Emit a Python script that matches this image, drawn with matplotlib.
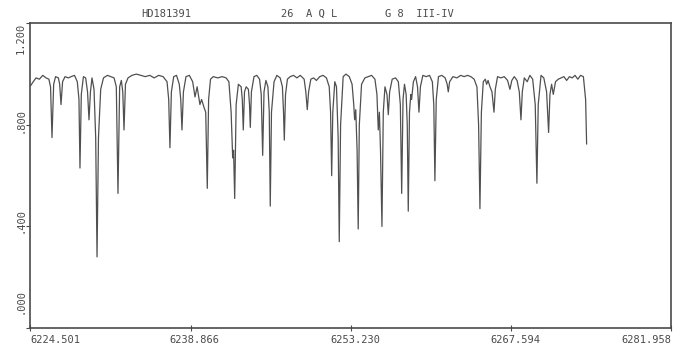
import numpy as np
import matplotlib.pyplot as plt

# spectrum vertices (wavelength in A, relative flux)
wave = [6224.52, 6224.75, 6225.00, 6225.30, 6225.60, 6225.90, 6226.15, 6226.30, 6226.43, 6226.58,
        6226.75, 6227.00, 6227.12, 6227.24, 6227.38, 6227.60, 6227.90, 6228.15, 6228.45, 6228.70,
        6228.85, 6228.94, 6229.06, 6229.25, 6229.45, 6229.62, 6229.75, 6229.88, 6230.02, 6230.20,
        6230.35, 6230.47, 6230.60, 6230.80, 6231.05, 6231.40, 6231.70, 6232.00, 6232.20, 6232.35,
        6232.50, 6232.65, 6232.78, 6232.89, 6233.02, 6233.25, 6233.60, 6234.00, 6234.40, 6234.80,
        6235.20, 6235.60, 6236.00, 6236.40, 6236.75, 6236.90, 6237.01, 6237.14, 6237.35, 6237.60,
        6237.85, 6237.98, 6238.09, 6238.22, 6238.45, 6238.75, 6239.05, 6239.26, 6239.45, 6239.70,
        6239.85, 6240.06, 6240.22, 6240.36, 6240.48, 6240.65, 6240.90, 6241.30, 6241.70, 6242.05,
        6242.30, 6242.50, 6242.64, 6242.72, 6242.82, 6242.95, 6243.15, 6243.40, 6243.50, 6243.59,
        6243.70, 6243.85, 6244.05, 6244.15, 6244.22, 6244.32, 6244.55, 6244.80, 6245.05, 6245.20,
        6245.33, 6245.45, 6245.62, 6245.80, 6245.92, 6246.01, 6246.12, 6246.35, 6246.60, 6246.90,
        6247.10, 6247.20, 6247.27, 6247.38, 6247.55, 6247.80, 6248.10, 6248.40, 6248.70, 6249.05,
        6249.20, 6249.33, 6249.45, 6249.65, 6249.90, 6250.15, 6250.45, 6250.75, 6251.05, 6251.30,
        6251.42, 6251.52, 6251.62, 6251.80, 6251.95, 6252.10, 6252.20, 6252.32, 6252.55, 6252.80,
        6253.10, 6253.35, 6253.50, 6253.58, 6253.68, 6253.80, 6253.90, 6254.00, 6254.20, 6254.50,
        6254.80, 6255.10, 6255.40, 6255.58, 6255.70, 6255.80, 6255.90, 6256.03, 6256.15, 6256.30,
        6256.48, 6256.60, 6256.72, 6256.95, 6257.25, 6257.50, 6257.68, 6257.80, 6257.92, 6258.05,
        6258.20, 6258.30, 6258.39, 6258.50, 6258.62, 6258.69, 6258.85, 6259.05, 6259.22, 6259.35,
        6259.48, 6259.70, 6260.00, 6260.30, 6260.55, 6260.68, 6260.78, 6260.90, 6261.10, 6261.40,
        6261.70, 6261.88, 6261.98, 6262.10, 6262.40, 6262.75, 6263.10, 6263.40, 6263.70, 6264.00,
        6264.30, 6264.55, 6264.70, 6264.82, 6264.95, 6265.12, 6265.30, 6265.42, 6265.55, 6265.72,
        6265.90, 6266.08, 6266.20, 6266.40, 6266.70, 6267.00, 6267.30, 6267.51, 6267.68, 6267.90,
        6268.15, 6268.35, 6268.50, 6268.62, 6268.80, 6269.06, 6269.30, 6269.55, 6269.78, 6269.93,
        6270.05, 6270.30, 6270.55, 6270.80, 6270.98, 6271.10, 6271.25, 6271.40, 6271.60, 6271.85,
        6272.10, 6272.35, 6272.60, 6272.85, 6273.10, 6273.35, 6273.60, 6273.85, 6274.10, 6274.30,
        6274.39]
flux = [0.955, 0.97, 0.985, 0.98, 0.995, 0.985, 0.98, 0.95, 0.75, 0.96,
        0.99, 0.985, 0.96, 0.88, 0.97, 0.99, 0.985, 0.99, 0.995, 0.97,
        0.90, 0.63, 0.92, 0.99, 0.985, 0.93, 0.82, 0.93, 0.985, 0.94,
        0.75, 0.28, 0.75, 0.94, 0.985, 0.995, 0.99, 0.985, 0.95, 0.53,
        0.95, 0.975, 0.93, 0.78, 0.96, 0.985, 0.995, 1.00, 0.995, 0.99,
        0.995, 0.985, 0.995, 0.99, 0.97, 0.90, 0.71, 0.93, 0.99, 0.995,
        0.96, 0.90, 0.78, 0.93, 0.99, 0.995, 0.97, 0.91, 0.95, 0.88,
        0.90, 0.87, 0.85, 0.55, 0.90, 0.98, 0.99, 0.985, 0.99, 0.985,
        0.97, 0.85, 0.67, 0.70, 0.51, 0.88, 0.96, 0.95, 0.90, 0.78,
        0.93, 0.95, 0.94, 0.88, 0.79, 0.93, 0.99, 0.995, 0.98, 0.92,
        0.68, 0.93, 0.975, 0.95, 0.85, 0.48, 0.85, 0.97, 0.995, 0.985,
        0.95, 0.85, 0.74, 0.92, 0.98, 0.99, 0.995, 0.985, 0.995, 0.98,
        0.93, 0.86, 0.93, 0.98, 0.985, 0.975, 0.99, 0.995, 0.985, 0.95,
        0.85, 0.60, 0.85, 0.97, 0.95, 0.75, 0.34, 0.80, 0.99, 1.00,
        0.99, 0.96, 0.88, 0.82, 0.86, 0.70, 0.39, 0.80, 0.96, 0.985,
        0.99, 0.995, 0.98, 0.92, 0.78, 0.85, 0.70, 0.40, 0.85, 0.95,
        0.92, 0.84, 0.93, 0.98, 0.985, 0.97, 0.88, 0.53, 0.90, 0.96,
        0.92, 0.80, 0.46, 0.85, 0.92, 0.90, 0.97, 0.99, 0.95, 0.85,
        0.95, 0.995, 0.99, 0.995, 0.97, 0.88, 0.58, 0.90, 0.99, 0.995,
        0.985, 0.96, 0.93, 0.97, 0.99, 0.985, 0.995, 0.99, 0.995, 0.99,
        0.98, 0.95, 0.80, 0.47, 0.85, 0.97, 0.98, 0.96, 0.975, 0.95,
        0.93, 0.85, 0.94, 0.99, 0.985, 0.99, 0.975, 0.94, 0.975, 0.99,
        0.975, 0.93, 0.82, 0.93, 0.985, 0.97, 0.995, 0.98, 0.88, 0.57,
        0.88, 0.995, 0.985, 0.93, 0.77, 0.92, 0.96, 0.92, 0.97, 0.98,
        0.985, 0.99, 0.975, 0.99, 0.985, 0.995, 0.98, 0.995, 0.99, 0.90,
        0.725]

xticks = [6224.501, 6238.866, 6253.230, 6267.594, 6281.958]
xlabels = ['6224.501', '6238.866', '6253.230', '6267.594', '6281.958']
yticks = [0.0, 0.4, 0.8, 1.2]
ylabels = ['.000', '.400', '.800', '1.200']
header = ['HD181391', '26  A Q L', 'G 8  III-IV']

ink = '#4a4a4a'
mono = 'DejaVu Sans Mono'

fig = plt.figure(figsize=(6.73, 3.47), dpi=100)
ax = fig.add_axes([0.0453, 0.0548, 0.9517, 0.878])
ax.plot(wave, flux, color='#505050', lw=0.9)
ax.set_xlim(xticks[0], xticks[-1])
ax.set_ylim(yticks[0], yticks[-1])

for s in ax.spines.values():
    s.set_color(ink)
    s.set_linewidth(1.2)

ax.set_xticks(xticks)
ax.set_xticklabels([])
ax.tick_params(axis='x', direction='inout', length=5, color=ink, width=0.8)
for i, (v, lab) in enumerate(zip(xticks, xlabels)):
    ha = 'left' if i == 0 else ('right' if i == len(xticks) - 1 else 'center')
    dx = 0 if i in (0, len(xticks) - 1) else 3
    ax.annotate(lab, (v, 0), xytext=(dx, -8.6), textcoords='offset points',
                ha=ha, va='center', fontsize=7.5, family=mono, color=ink,
                annotation_clip=False)

ax.set_yticks(yticks)
ax.set_yticklabels([])
ax.tick_params(axis='y', direction='out', length=3, color=ink, width=0.8)
yshift = [0.106, 0.424, 0.816, 1.139]
for lab, yp in zip(ylabels, yshift):
    ax.text(-0.016, yp, lab, transform=ax.get_yaxis_transform(), rotation=90,
            ha='center', va='center', fontsize=7.5, family=mono, color=ink)

hx = [0.247, 0.459, 0.623]
for t, x in zip(header, hx):
    fig.text(x, 0.961, t, ha='center', va='center', fontsize=7.5, family=mono, color=ink)

fig.savefig('out.png', dpi=100, facecolor='white')
